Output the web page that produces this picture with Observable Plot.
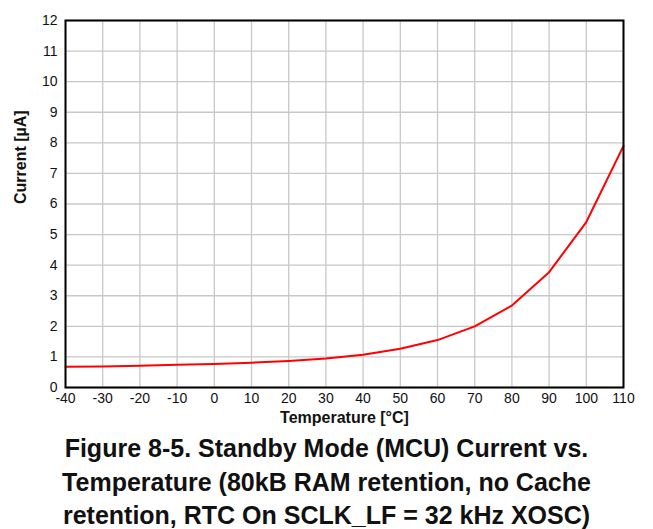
<!DOCTYPE html>
<html>
<head>
<meta charset="utf-8">
<script src="https://cdn.jsdelivr.net/npm/d3@7"></script>
<script src="https://cdn.jsdelivr.net/npm/@observablehq/plot@0.6"></script>
<style>
  html, body { margin: 0; padding: 0; background: #fff; }
  body { width: 653px; height: 529px; position: relative; overflow: hidden; font-family: "Liberation Sans", Arial, sans-serif; }
  #topline { position: absolute; left: 0; top: 3px; width: 653px; height: 2px; background: #808080; }
  #chart { position: absolute; left: 0; top: 0; }
  .tl { position: absolute; left: 0; width: 653px; text-align: center; font-weight: bold; font-size: 25px; line-height: 26px; height: 26px; color: #111; white-space: nowrap; }
</style>
</head>
<body>
<div id="topline"></div>
<div id="chart"></div>
<div class="tl" style="top:435px">Figure 8-5. Standby Mode (MCU) Current vs.</div>
<div class="tl" style="top:469px">Temperature (80kB RAM retention, no Cache</div>
<div class="tl" style="top:502px">retention, RTC On SCLK_LF = 32 kHz XOSC)</div>
<script>
const temperature = [-40, -30, -20, -10, 0, 10, 20, 30, 40, 50, 60, 70, 80, 90, 100, 110];
const current = [0.68, 0.69, 0.71, 0.74, 0.77, 0.81, 0.87, 0.95, 1.07, 1.27, 1.55, 2.0, 2.68, 3.77, 5.41, 7.9];
const xTicks = [-40, -30, -20, -10, 0, 10, 20, 30, 40, 50, 60, 70, 80, 90, 100, 110];
const yTicks = [0, 1, 2, 3, 4, 5, 6, 7, 8, 9, 10, 11, 12];

const data = temperature.map((t, i) => ({t, c: current[i]}));

const plot = Plot.plot({
  width: 653,
  height: 432,
  marginTop: 20,
  marginLeft: 65,
  marginRight: 30,
  marginBottom: 45,
  style: {fontFamily: "Liberation Sans, Arial, sans-serif", fontSize: "14px", color: "#111", background: "white"},
  x: {domain: [-40, 110], ticks: xTicks, label: null},
  y: {domain: [0, 12], ticks: yTicks, label: null},
  marks: [
    Plot.gridX(xTicks, {stroke: "#c8c8c8", strokeOpacity: 1, strokeWidth: 1.3}),
    Plot.gridY(yTicks, {stroke: "#c8c8c8", strokeOpacity: 1, strokeWidth: 1.3}),
    Plot.line(data, {x: "t", y: "c", stroke: "#ff0000", strokeWidth: 2}),
    Plot.frame({stroke: "#000", strokeWidth: 2}),
    Plot.axisX(xTicks, {tickSize: 0, tickPadding: 6, fontSize: 14, label: null, tickFormat: d => String(d)}),
    Plot.axisY(yTicks, {tickSize: 0, tickPadding: 8, fontSize: 14, label: null, tickFormat: d => String(d)}),
    Plot.text(["Temperature [°C]"], {frameAnchor: "bottom", dy: 35, fontWeight: "bold", fontSize: 16}),
    Plot.text(["Current [µA]"], {frameAnchor: "left", dx: -45, rotate: -90, fontWeight: "bold", fontSize: 16})
  ]
});
document.getElementById("chart").appendChild(plot);
</script>
</body>
</html>
